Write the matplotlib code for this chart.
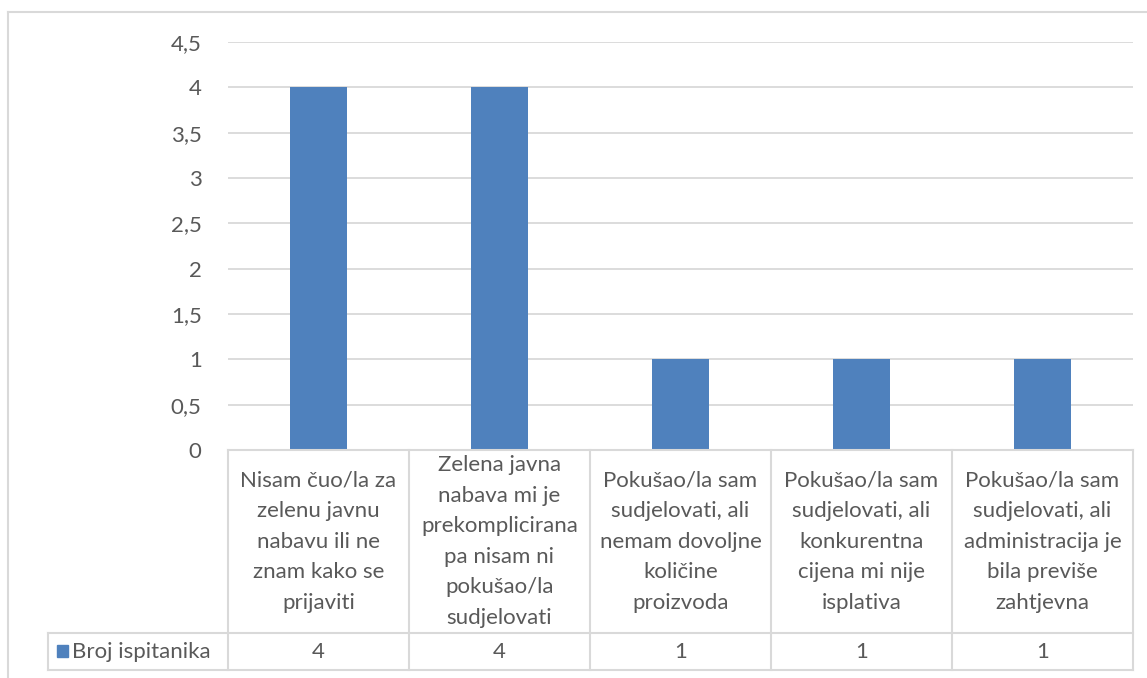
import matplotlib.pyplot as plt
import numpy as np
from matplotlib.patches import Rectangle

# data
categories = [
    "Nisam čuo/la za\nzelenu javnu\nnabavu ili ne\nznam kako se\nprijaviti",
    "Zelena javna\nnabava mi je\nprekomplicirana\npa nisam ni\npokušao/la\nsudjelovati",
    "Pokušao/la sam\nsudjelovati, ali\nnemam dovoljne\nkoličine\nproizvoda",
    "Pokušao/la sam\nsudjelovati, ali\nkonkurentna\ncijena mi nije\nisplativa",
    "Pokušao/la sam\nsudjelovati, ali\nadministracija je\nbila previše\nzahtjevna",
]
values = [4, 4, 1, 1, 1]
series_name = "Broj ispitanika"
yticks = [0, 0.5, 1, 1.5, 2, 2.5, 3, 3.5, 4, 4.5]

W, H = 1147, 678
bar_color = "#4F81BD"
grid_color = "#D9D9D9"
text_color = "#595959"
fs = 16
plt.rcParams['font.family'] = ['Lato', 'DejaVu Sans']

fig = plt.figure(figsize=(W / 100, H / 100), dpi=100)

def fx(px):
    return px / W

def fy(py):
    return 1 - py / H

# plot area in pixels
left, right, top, bottom = 228, 1133, 42, 450
ax = fig.add_axes([fx(left), fy(bottom), fx(right - left), (bottom - top) / H])
x = np.arange(len(values))
ax.bar(x, values, width=0.31, color=bar_color, zorder=3)
ax.set_xlim(-0.5, len(values) - 0.5)
ax.set_ylim(0, 4.5)
ax.set_yticks(yticks)
ax.set_yticklabels([f"{t:g}".replace(".", ",") for t in yticks], color=text_color, fontsize=fs)
ax.yaxis.grid(True, color=grid_color, lw=1.3, zorder=0)
ax.tick_params(axis='y', length=0, pad=19)
ax.set_xticks([])
for s in ax.spines.values():
    s.set_visible(False)

# data table below the plot
tax = fig.add_axes([0, 0, 1, 1], facecolor='none')
tax.set_xlim(0, W)
tax.set_ylim(H, 0)
tax.axis('off')

col_w = (right - left) / len(values)
row_mid = 633
tab_bot = 670
hdr_left = 48
lc = dict(color=grid_color, lw=1.5)

tax.plot([left, right], [bottom, bottom], **lc)
tax.plot([hdr_left, right], [row_mid, row_mid], **lc)
tax.plot([hdr_left, right], [tab_bot, tab_bot], **lc)
tax.plot([hdr_left, hdr_left], [row_mid, tab_bot], **lc)
for k in range(len(values) + 1):
    xx = left + k * col_w
    tax.plot([xx, xx], [bottom, tab_bot], **lc)

for k, (cat, v) in enumerate(zip(categories, values)):
    cx = left + (k + 0.5) * col_w
    tax.text(cx, (bottom + row_mid) / 2, cat, ha='center', va='center',
             fontsize=fs, color=text_color, linespacing=1.66)
    tax.text(cx, (row_mid + tab_bot) / 2, str(v), ha='center', va='center',
             fontsize=fs, color=text_color)

tax.add_patch(Rectangle((57, 645), 11, 12, color=bar_color))
tax.text(72, (row_mid + tab_bot) / 2, series_name, ha='left', va='center',
         fontsize=fs, color=text_color)

# outer chart border (partly visible)
tax.plot([8, W], [12, 12], color=grid_color, lw=1.5)
tax.plot([8, 8], [12, H], color=grid_color, lw=1.5)

fig.savefig("out.png", dpi=100)
